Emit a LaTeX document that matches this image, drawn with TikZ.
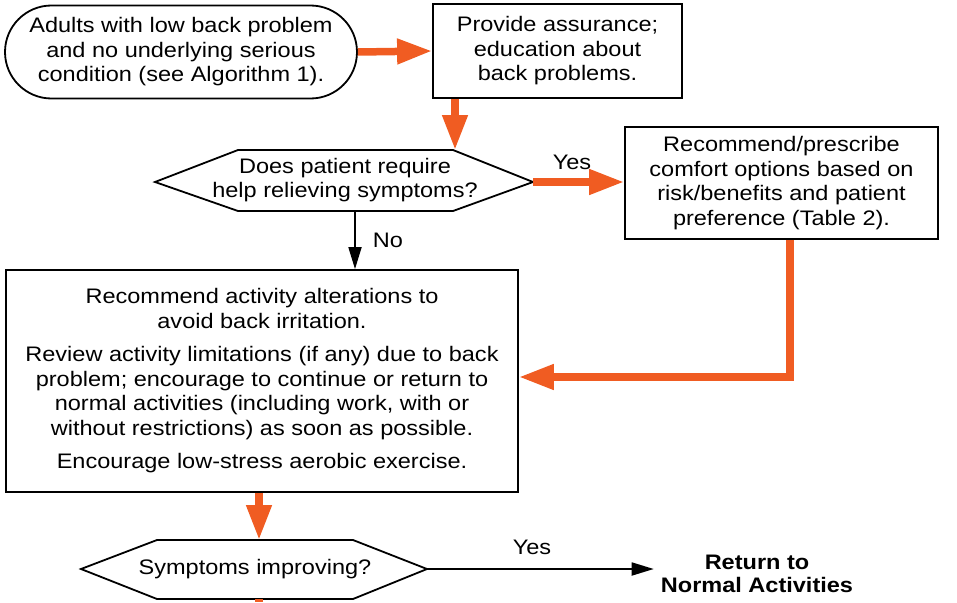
\documentclass[tikz,border=0pt]{standalone}
\usepackage{fontspec}
\setmainfont{Liberation Sans}[FakeStretch=1.12]
\usetikzlibrary{shapes.misc,arrows.meta}
\definecolor{flow}{RGB}{240,92,34}
\begin{document}
\begin{tikzpicture}[x=1pt,y=-1pt,
  txt/.style={font=\fontsize{21}{24.5}\selectfont, align=center},
  box/.style={draw, line width=1.8pt, txt, inner sep=0pt},
  outline/.style={draw, line width=1.8pt, line join=miter},
  flowarrow/.style={draw=flow, line width=7.5pt, line join=miter,
    -{Triangle[length=35pt,width=24pt]}},
  blackarrow/.style={draw, line width=1.8pt,
    -{Triangle[length=22pt,width=13pt]}},
  lbl/.style={txt, inner sep=0pt}]
\useasboundingbox (0,0) rectangle (957,602);

% start terminal
\node[box, rounded rectangle, minimum width=352pt, minimum height=93pt]
  (start) at (181,52)
  {Adults with low back problem\\and no underlying serious\\condition (see Algorithm 1).};

% process boxes
\node[box, minimum width=249pt, minimum height=94pt] (assure) at (557.5,51)
  {Provide assurance;\\education about\\back problems.};
\node[box, minimum width=313pt, minimum height=112pt] (comfort) at (781.5,183)
  {Recommend/prescribe\\comfort options based on\\risk/benefits and patient\\preference (Table 2).};
\node[box, minimum width=512pt, minimum height=222pt] (activity) at (262,381)
  {Recommend activity alterations to\\avoid back irritation.\\[9pt]
   Review activity limitations (if any) due to back\\
   problem; encourage to continue or return to\\
   normal activities (including work, with or\\
   without restrictions) as soon as possible.\\[9pt]
   Encourage low-stress aerobic exercise.};

% first decision
\coordinate (q1l) at (155,182);
\coordinate (q1r) at (533,182);
\coordinate (q1top) at (455,150);
\coordinate (q1bot) at (355,211);
\draw[outline] (q1l) -- (238,150) -- (453,150) -- (q1r) -- (453,211) -- (238,211) -- cycle;
\node[lbl] (q1) at (345,180) {Does patient require\\help relieving symptoms?};

% second decision
\coordinate (q2l) at (81,569);
\coordinate (q2r) at (427,569);
\coordinate (q2top) at (259,540);
\coordinate (q2bot) at (259,599);
\coordinate (q2out) at (259,602);
\draw[outline] (q2l) -- (157,540) -- (353,540) -- (q2r) -- (353,599) -- (157,599) -- cycle;
\node[lbl] (q2) at (255,569) {Symptoms improving?};

% outcome
\node[txt, font=\fontsize{21}{23}\selectfont\bfseries, inner xsep=7pt, inner ysep=0pt]
  (ret) at (757,574) {Return to\\Normal Activities};

% connectors
\coordinate (loop) at (790,377);
\draw[flowarrow] (start.east) -- (assure.west);
\draw[flowarrow] (q1top |- assure.south) -- (q1top);
\draw[flowarrow] (q1r) -- (q1r -| comfort.west);
\draw[blackarrow] (q1bot) -- (q1bot |- activity.north);
\draw[flowarrow] (loop |- comfort.south) -- (loop) -- (loop -| activity.east);
\draw[flowarrow] (q2top |- activity.south) -- (q2top);
\draw[draw=flow, line width=7.5pt] (q2bot) -- (q2out);
\draw[blackarrow] (q2r) -- (q2r -| ret.west);

% branch labels
\node[lbl] (yes1) at (572,162) {Yes};
\node[lbl] (no1) at (388,240) {No};
\node[lbl] (yes2) at (532,547) {Yes};
\end{tikzpicture}
\end{document}
